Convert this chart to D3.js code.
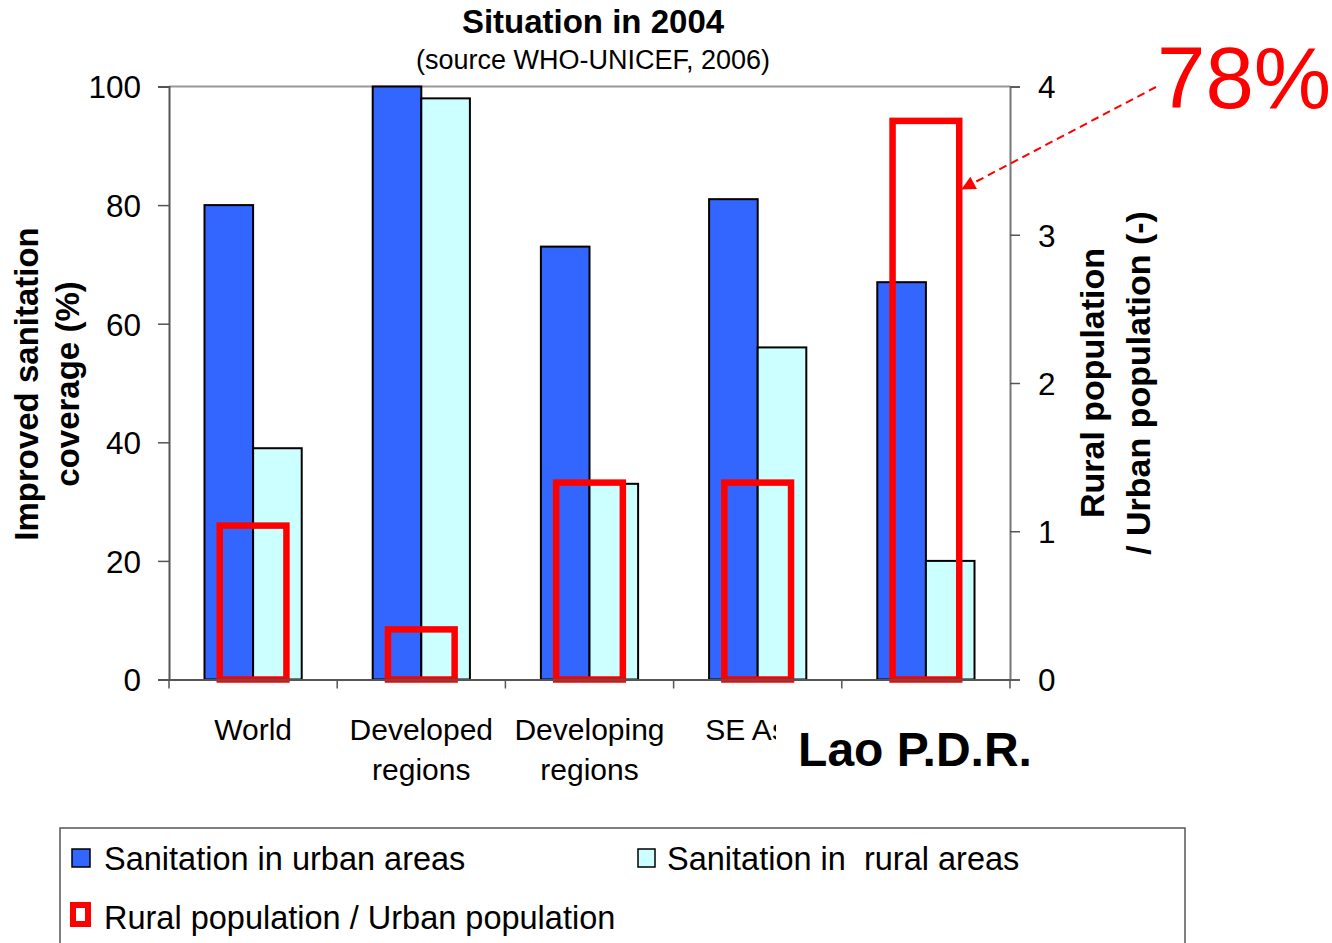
<!DOCTYPE html>
<html>
<head>
<meta charset="utf-8">
<script src="https://cdn.jsdelivr.net/npm/d3@7/dist/d3.min.js"></script>
<style>
  html, body { margin: 0; padding: 0; background: #fff; }
  svg { display: block; font-family: "Liberation Sans", Arial, Helvetica, sans-serif; }
</style>
</head>
<body>
<svg id="chart" width="1332" height="943"></svg>
<script>
// Improved sanitation coverage (%) by region, 2004
const categories = ["World", "Developed\nregions", "Developing\nregions", "SE Asia", "Lao P.D.R."];
const highlighted = "Lao P.D.R.";
const urbanCoverage = [80, 100, 73, 81, 67];
const ruralCoverage = [39, 98, 33, 56, 20];
// Rural population / Urban population (right axis)
const ruralUrbanRatio = [1.06, 0.36, 1.35, 1.35, 3.79];
const leftTicks = [0, 20, 40, 60, 80, 100];
const rightTicks = [0, 1, 2, 3, 4];
const seriesNames = ["Sanitation in urban areas", "Sanitation in  rural areas", "Rural population / Urban population"];
const laoShare = "78%";

const colUrban = "#3366FF", colRural = "#CCFFFF", colRed = "#FF0000";

const svg = d3.select("#chart");
const plot = { left: 169, right: 1010, top: 86.5, bottom: 679.5 };

const x0 = d3.scaleBand().domain(categories).range([plot.left, plot.right]).padding(0);
const bw = x0.bandwidth();
const groupW = bw * 0.578;
const x1 = d3.scaleBand().domain(["urban", "rural"]).range([(bw - groupW) / 2, (bw + groupW) / 2]).padding(0);
const redW = bw * 0.435;

const yL = d3.scaleLinear().domain([0, 100]).range([plot.bottom, plot.top]);
const yR = d3.scaleLinear().domain([0, 4]).range([plot.bottom, plot.top]);

// plot frame top edge
svg.append("line")
  .attr("x1", plot.left).attr("x2", plot.right)
  .attr("y1", plot.top).attr("y2", plot.top)
  .attr("stroke", "#999").attr("stroke-width", 2);

// bars
const rows = categories.map((c, i) => ({ c, urban: urbanCoverage[i], rural: ruralCoverage[i], ratio: ruralUrbanRatio[i] }));

const g = svg.append("g");
rows.forEach(r => {
  g.append("rect")
    .attr("x", x0(r.c) + x1("urban")).attr("y", yL(r.urban))
    .attr("width", x1.bandwidth()).attr("height", yL(0) - yL(r.urban))
    .attr("fill", colUrban).attr("stroke", "#000").attr("stroke-width", 2);
  g.append("rect")
    .attr("x", x0(r.c) + x1("rural")).attr("y", yL(r.rural))
    .attr("width", x1.bandwidth()).attr("height", yL(0) - yL(r.rural))
    .attr("fill", colRural).attr("stroke", "#000").attr("stroke-width", 2);
});

// ratio outlines (secondary axis), stroke kept inside the bar extent
const sw = 6.5;
rows.forEach(r => {
  const cx = x0(r.c) + bw / 2;
  g.append("rect")
    .attr("x", cx - redW / 2 + sw / 2).attr("y", yR(r.ratio) + sw / 2)
    .attr("width", redW - sw).attr("height", yR(0) - yR(r.ratio) - sw / 2)
    .attr("fill", "none").attr("stroke", colRed).attr("stroke-width", sw);
});

// left axis
const axL = svg.append("g").attr("transform", `translate(${plot.left},0)`)
  .call(d3.axisLeft(yL).tickValues(leftTicks).tickSize(11).tickPadding(17));
// right axis
const axR = svg.append("g").attr("transform", `translate(${plot.right},0)`)
  .call(d3.axisRight(yR).tickValues(rightTicks).tickFormat(d3.format("d")).tickSize(10).tickPadding(18));
[axL, axR].forEach(a => {
  a.select(".domain").attr("stroke", "#555").attr("stroke-width", 2);
  a.selectAll(".tick line").attr("stroke", "#555").attr("stroke-width", 1.5);
  a.selectAll(".tick text").attr("font-size", 31.5).attr("fill", "#000").attr("dy", "0.36em");
});
axR.select(".domain").attr("stroke", "#777");

// bottom axis with category labels (the highlighted country gets its own label)
const axB = svg.append("g").attr("transform", `translate(0,${plot.bottom})`)
  .call(d3.axisBottom(x0).tickSize(0).tickPadding(0).tickFormat(d => d === highlighted ? "" : d));
axB.select(".domain").attr("stroke", "#555").attr("stroke-width", 2);
axB.selectAll(".tick text").each(function (d) {
  const t = d3.select(this).text(null).attr("font-size", 30).attr("fill", "#000").attr("y", 0).attr("dy", null);
  if (d === highlighted) return;
  d.split("\n").forEach((s, k) => t.append("tspan").attr("x", 0).attr("y", 60 + k * 40).text(s));
});
// category boundary ticks
const bounds = categories.map(c => x0(c)).concat([x0.range()[1]]);
axB.selectAll(".bound").data(bounds).enter().append("line")
  .attr("x1", d => d).attr("x2", d => d).attr("y1", 0).attr("y2", 9)
  .attr("stroke", "#555").attr("stroke-width", 1.5);

// highlighted country label box
svg.append("rect").attr("x", 776).attr("y", 700).attr("width", 270).attr("height", 90).attr("fill", "#fff");
svg.append("text").attr("x", 915).attr("y", 766).attr("text-anchor", "middle")
  .attr("font-size", 48).attr("font-weight", "bold").text(highlighted);

// titles
svg.append("text").attr("x", 593).attr("y", 33).attr("text-anchor", "middle")
  .attr("font-size", 33).attr("font-weight", "bold").text("Situation in 2004");
svg.append("text").attr("x", 593).attr("y", 69).attr("text-anchor", "middle")
  .attr("font-size", 27).text("(source WHO-UNICEF, 2006)");

// axis titles
const tl = svg.append("text").attr("transform", "translate(38,384) rotate(-90)")
  .attr("text-anchor", "middle").attr("font-size", 33).attr("font-weight", "bold");
tl.append("tspan").attr("x", 0).attr("y", 0).text("Improved sanitation");
tl.append("tspan").attr("x", 0).attr("y", 41).text("coverage (%)");

const tr = svg.append("text").attr("transform", "translate(1104,383) rotate(-90)")
  .attr("text-anchor", "middle").attr("font-size", 34).attr("font-weight", "bold");
tr.append("tspan").attr("x", 0).attr("y", 0).text("Rural population");
tr.append("tspan").attr("x", 0).attr("y", 46).text("/ Urban population (-)");

// 78% annotation with dashed arrow to the Lao ratio bar
svg.append("text").attr("x", 1157).attr("y", 108).attr("font-size", 87).attr("fill", colRed).text(laoShare);
const laoCx = x0(highlighted) + bw / 2;
const tip = [laoCx + redW / 2, yR(3.31)];
const start = [1156, 87];
svg.append("defs").append("marker").attr("id", "ah")
  .attr("viewBox", "0 0 10 10").attr("refX", 9).attr("refY", 5)
  .attr("markerWidth", 8).attr("markerHeight", 7).attr("markerUnits", "strokeWidth")
  .attr("orient", "auto")
  .append("path").attr("d", "M0,0 L10,5 L0,10 Z").attr("fill", colRed);
svg.append("line")
  .attr("x1", start[0]).attr("y1", start[1]).attr("x2", tip[0]).attr("y2", tip[1])
  .attr("stroke", colRed).attr("stroke-width", 2).attr("stroke-dasharray", "8,5")
  .attr("marker-end", "url(#ah)");

// legend
const lg = svg.append("g");
lg.append("rect").attr("x", 60).attr("y", 828).attr("width", 1125).attr("height", 130)
  .attr("fill", "#fff").attr("stroke", "#555").attr("stroke-width", 1.5);
lg.append("rect").attr("x", 72).attr("y", 849).attr("width", 18).attr("height", 18)
  .attr("fill", colUrban).attr("stroke", "#000").attr("stroke-width", 1.5);
lg.append("text").attr("x", 104).attr("y", 870).attr("font-size", 32.5).text(seriesNames[0]);
lg.append("rect").attr("x", 638).attr("y", 849).attr("width", 17).attr("height", 18)
  .attr("fill", colRural).attr("stroke", "#000").attr("stroke-width", 1.5);
lg.append("text").attr("x", 667).attr("y", 870).attr("font-size", 32.5).attr("xml:space", "preserve")
  .style("white-space", "pre").text(seriesNames[1]);
lg.append("rect").attr("x", 73).attr("y", 905).attr("width", 15).attr("height", 19)
  .attr("fill", "#fff").attr("stroke", colRed).attr("stroke-width", 6);
lg.append("text").attr("x", 104).attr("y", 929).attr("font-size", 32.5).text(seriesNames[2]);
</script>
</body>
</html>
